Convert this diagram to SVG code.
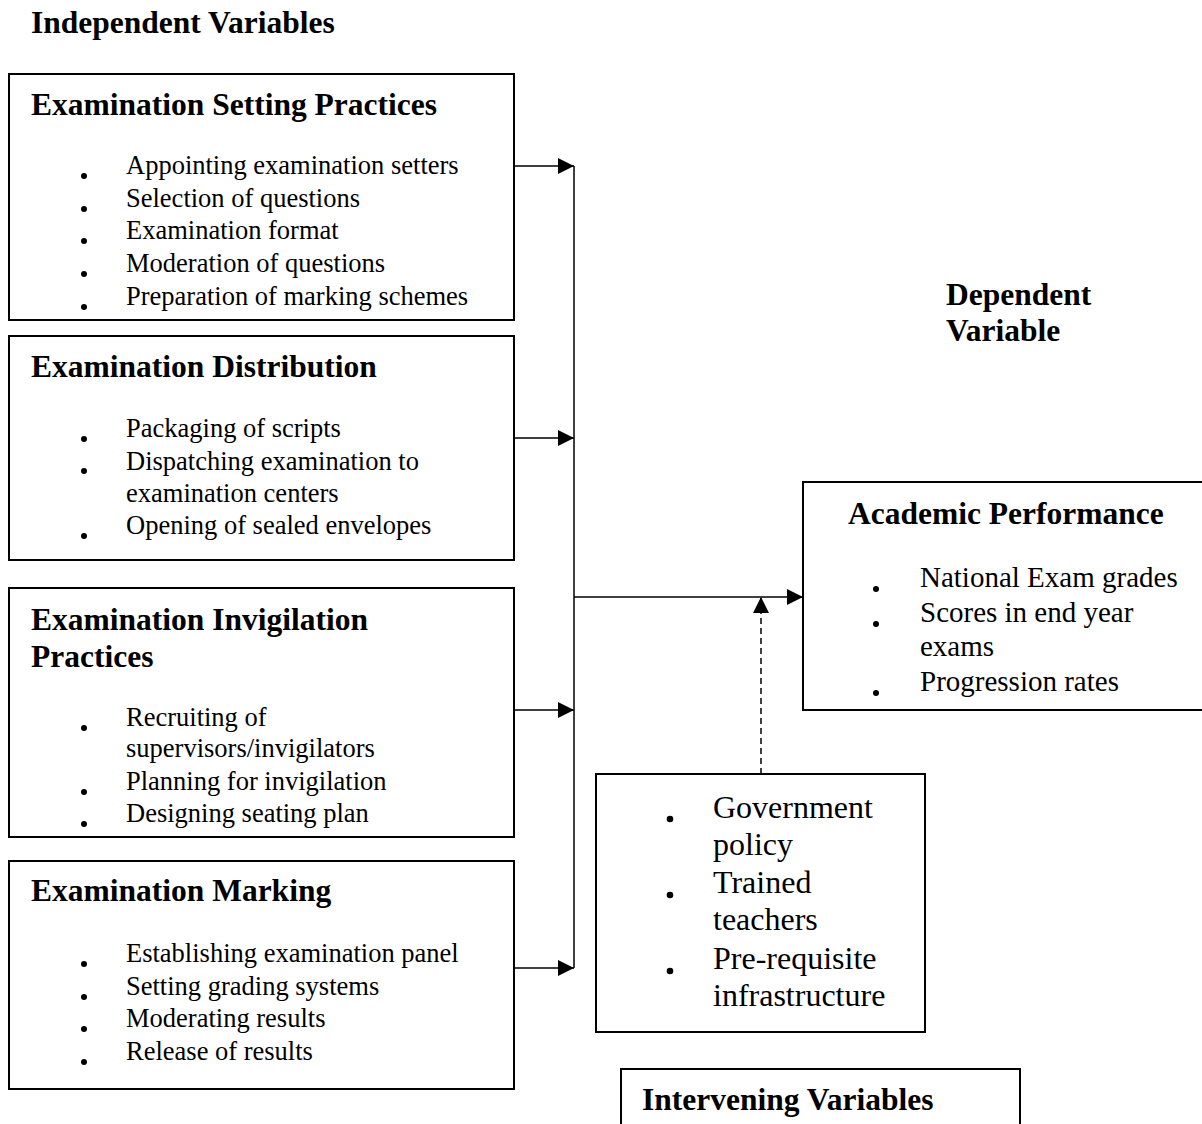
<svg xmlns="http://www.w3.org/2000/svg" width="1202" height="1124" viewBox="0 0 1202 1124">
<defs>
<style>
.box{fill:#fff;stroke:#000;stroke-width:2}
.hd{font-family:"Liberation Serif","Times New Roman",serif;font-weight:bold;font-size:31.5px;fill:#000}
.tx{font-family:"Liberation Serif","Times New Roman",serif;font-size:26.5px;fill:#000}
.tx2{font-family:"Liberation Serif","Times New Roman",serif;font-size:29px;fill:#000}
.tx3{font-family:"Liberation Serif","Times New Roman",serif;font-size:32px;fill:#000}
.ln{fill:none;stroke:#000;stroke-width:1.5}
.dash{fill:none;stroke:#000;stroke-width:1.5;stroke-dasharray:6 4}
</style>
<marker id="ahb" viewBox="0 0 10 10" refX="10" refY="5" markerWidth="16" markerHeight="16" markerUnits="userSpaceOnUse" orient="auto">
<path d="M0,0 L10,5 L0,10 z" fill="#000"/>
</marker>
</defs>
<rect width="1202" height="1124" fill="#fff"/>

<text class="hd" x="31" y="33">Independent Variables</text>
<g id="dependent-label">
<text class="hd" x="946" y="305">Dependent</text>
<text class="hd" x="946" y="341">Variable</text>
</g>

<g id="connectors">
<line class="ln" x1="514" y1="166" x2="574" y2="166" marker-end="url(#ahb)"/>
<line class="ln" x1="514" y1="438" x2="574" y2="438" marker-end="url(#ahb)"/>
<line class="ln" x1="514" y1="710" x2="574" y2="710" marker-end="url(#ahb)"/>
<line class="ln" x1="514" y1="968" x2="574" y2="968" marker-end="url(#ahb)"/>
<line class="ln" x1="574" y1="166" x2="574" y2="968"/>
<line class="ln" x1="574" y1="597" x2="803" y2="597" marker-end="url(#ahb)"/>
<line class="dash" x1="761" y1="774" x2="761" y2="597" marker-end="url(#ahb)"/>
</g>

<g id="setting">
<rect class="box" x="9" y="74" width="505" height="246"/>
<text class="hd" x="31" y="115">Examination Setting Practices</text>
<text class="tx" x="126" y="174">Appointing examination setters</text>
<text class="tx" x="126" y="207">Selection of questions</text>
<text class="tx" x="126" y="239">Examination format</text>
<text class="tx" x="126" y="272">Moderation of questions</text>
<text class="tx" x="126" y="305">Preparation of marking schemes</text>
<circle cx="84" cy="176" r="3"/>
<circle cx="84" cy="209" r="3"/>
<circle cx="84" cy="241" r="3"/>
<circle cx="84" cy="274" r="3"/>
<circle cx="84" cy="307" r="3"/>
</g>

<g id="distribution">
<rect class="box" x="9" y="336" width="505" height="224"/>
<text class="hd" x="31" y="377">Examination Distribution</text>
<text class="tx" x="126" y="437">Packaging of scripts</text>
<text class="tx" x="126" y="470">Dispatching examination to</text>
<text class="tx" x="126" y="502">examination centers</text>
<text class="tx" x="126" y="534">Opening of sealed envelopes</text>
<circle cx="84" cy="439" r="3"/>
<circle cx="84" cy="471" r="3"/>
<circle cx="84" cy="536" r="3"/>
</g>

<g id="invigilation">
<rect class="box" x="9" y="588" width="505" height="249"/>
<text class="hd" x="31" y="630">Examination Invigilation</text>
<text class="hd" x="31" y="667">Practices</text>
<text class="tx" x="126" y="726">Recruiting of</text>
<text class="tx" x="126" y="757">supervisors/invigilators</text>
<text class="tx" x="126" y="790">Planning for invigilation</text>
<text class="tx" x="126" y="822">Designing seating plan</text>
<circle cx="84" cy="728" r="3"/>
<circle cx="84" cy="792" r="3"/>
<circle cx="84" cy="824" r="3"/>
</g>

<g id="marking">
<rect class="box" x="9" y="861" width="505" height="228"/>
<text class="hd" x="31" y="901">Examination Marking</text>
<text class="tx" x="126" y="962">Establishing examination panel</text>
<text class="tx" x="126" y="995">Setting grading systems</text>
<text class="tx" x="126" y="1027">Moderating results</text>
<text class="tx" x="126" y="1060">Release of results</text>
<circle cx="84" cy="964" r="3"/>
<circle cx="84" cy="997" r="3"/>
<circle cx="84" cy="1029" r="3"/>
<circle cx="84" cy="1062" r="3"/>
</g>

<g id="academic">
<rect class="box" x="803" y="482" width="410" height="228"/>
<text class="hd" x="848" y="524">Academic Performance</text>
<text class="tx2" x="920" y="587">National Exam grades</text>
<text class="tx2" x="920" y="622">Scores in end year</text>
<text class="tx2" x="920" y="656">exams</text>
<text class="tx2" x="920" y="691">Progression rates</text>
<circle cx="876" cy="589" r="3"/>
<circle cx="876" cy="624" r="3"/>
<circle cx="876" cy="693" r="3"/>
</g>

<g id="intervening-items">
<rect class="box" x="596" y="774" width="329" height="258"/>
<text class="tx3" x="713" y="818">Government</text>
<text class="tx3" x="713" y="855">policy</text>
<text class="tx3" x="713" y="893">Trained</text>
<text class="tx3" x="713" y="930">teachers</text>
<text class="tx3" x="713" y="969">Pre-requisite</text>
<text class="tx3" x="713" y="1006">infrastructure</text>
<circle cx="670" cy="819" r="3.3"/>
<circle cx="670" cy="895" r="3.3"/>
<circle cx="670" cy="971" r="3.3"/>
</g>

<g id="intervening-label">
<rect class="box" x="621" y="1069" width="399" height="70"/>
<text class="hd" x="642" y="1110">Intervening Variables</text>
</g>
</svg>
